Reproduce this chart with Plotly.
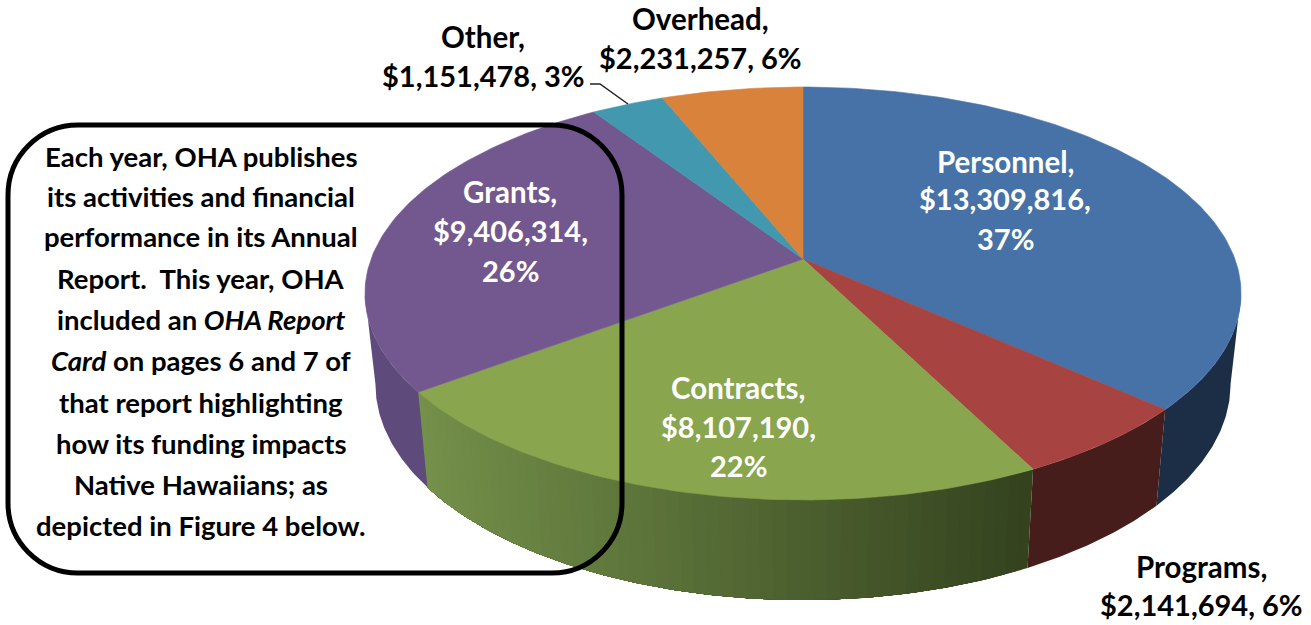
import math
import plotly.graph_objects as go

categories = ["Personnel", "Programs", "Contracts", "Grants", "Other", "Overhead"]
amounts = [13309816, 2141694, 8107190, 9406314, 1151478, 2231257]
percents = [37, 6, 22, 26, 3, 6]
top_colors = ["#4672A8", "#A74442", "#89A54E", "#72588E", "#4298AF", "#D9823C"]
wall_left = ["#1B2E46", "#471D1B", "#74904A", "#5F4A7C", "#2A6070", "#8A5020"]
wall_right = ["#1B2E46", "#471D1B", "#33421E", "#5F4A7C", "#2A6070", "#8A5020"]
box_lines = [
    "Each year, OHA publishes",
    "its activities and financial",
    "performance in its Annual",
    "Report.  This year, OHA",
    "included an <i>OHA Report</i>",
    "<i>Card</i> on pages 6 and 7 of",
    "that report highlighting",
    "how its funding impacts",
    "Native Hawaiians; as",
    "depicted in Figure 4 below.",
]

FONT = "Lato"
CX, CY = 803.0, 259.0
K, B = 0.167, 200.7
A = 431.9


def top(th):
    X, Y = math.sin(th), math.cos(th)
    w = 1 + K * Y
    return CX + A * X / w, CY - B * Y / w


def bottom(th):
    x, y = top(th)
    return CX + 0.976 * (x - CX), 1.045 * y + 77.6


def mix(c1, c2, t):
    a = [int(c1[i:i + 2], 16) for i in (1, 3, 5)]
    b = [int(c2[i:i + 2], 16) for i in (1, 3, 5)]
    t = min(1, max(0, t))
    return "rgb(%d,%d,%d)" % tuple(round(p + (q - p) * t) for p, q in zip(a, b))


total = sum(amounts)
edges = [0.0]
for v in amounts:
    edges.append(edges[-1] + v / total * 2 * math.pi)

fig = go.Figure()


def poly(xs, ys, color, lw=0.6):
    fig.add_trace(go.Scatter(x=xs, y=ys, mode="lines", fill="toself", fillcolor=color,
                             line=dict(color=color, width=lw), hoverinfo="skip", showlegend=False))


def wall_poly(t0, t1, color):
    m = max(2, int((t1 - t0) / math.radians(0.5)))
    ts = [t0 + (t1 - t0) * j / m for j in range(m + 1)]
    pts = [top(t) for t in ts] + [bottom(t) for t in reversed(ts)]
    pts.append(pts[0])
    poly([q[0] for q in pts], [q[1] for q in pts], color, lw=0)


# side walls run between the two silhouette tangents; later strips overpaint earlier ones
WALL_A = math.acos(-K)
WALL_B = 2 * math.pi - WALL_A
for i in range(len(amounts)):
    a0, a1 = max(edges[i], WALL_A), min(edges[i + 1], WALL_B)
    if a1 <= a0:
        continue
    if wall_left[i] == wall_right[i]:
        wall_poly(a0, a1, wall_left[i])
        continue
    n = max(2, int((a1 - a0) / math.radians(1.5)))
    x_l, x_r = top(a1)[0], top(a0)[0]
    for j in range(n):
        t0 = a0 + (a1 - a0) * j / n
        t1 = a0 + (a1 - a0) * (j + 1) / n
        frac = (top((t0 + t1) / 2)[0] - x_l) / (x_r - x_l)
        wall_poly(t0, a1, mix(wall_left[i], wall_right[i], frac))

# top face
for i in range(len(amounts)):
    n = max(4, int((edges[i + 1] - edges[i]) / math.radians(1)))
    arc = [top(edges[i] + (edges[i + 1] - edges[i]) * j / n) for j in range(n + 1)]
    pts = [(CX, CY)] + arc + [(CX, CY)]
    poly([q[0] for q in pts], [q[1] for q in pts], top_colors[i])

# leader line for "Other"
fig.add_trace(go.Scatter(x=[590, 600, 628], y=[84, 84, 104], mode="lines",
                         line=dict(color="#222222", width=1.5), hoverinfo="skip", showlegend=False))


def label(x, y, text, color="#000000", size=29.5):
    fig.add_annotation(x=x, y=y - 2, text="<b>%s</b>" % text, showarrow=False, xanchor="center", yanchor="middle",
                       font=dict(family=FONT, size=size, color=color))


def money(i):
    return "${:,}".format(amounts[i])


def pct(i):
    return "%d%%" % percents[i]


# inside labels
for i, cx, ys in [(0, 1005, (163, 200, 240)), (3, 510, (193, 232, 272)), (2, 738, (389, 428, 467))]:
    label(cx, ys[0], categories[i] + ",", "#FFFFFF")
    label(cx, ys[1], money(i) + ",", "#FFFFFF", 29)
    label(cx, ys[2], pct(i), "#FFFFFF", 29)

# outside labels
for i, cx, ys in [(1, 1201, (568, 606)), (4, 483, (38, 77)), (5, 700, (20, 59))]:
    label(cx, ys[0], categories[i] + ",")
    label(cx, ys[1], money(i) + ", " + pct(i), size=29)

box_y = [158, 198, 238, 280, 321, 362, 404, 445, 486, 527]
for line, y in zip(box_lines, box_y):
    label(201, y, line, size=27.5)

# rounded, unfilled text box
L, R, T, Bt, r = 8, 622, 125, 573, 70
c = 0.5523 * r
path = (f"M{L + r},{T} L{R - r},{T} C{R - r + c},{T} {R},{T + r - c} {R},{T + r} "
        f"L{R},{Bt - r} C{R},{Bt - r + c} {R - r + c},{Bt} {R - r},{Bt} "
        f"L{L + r},{Bt} C{L + r - c},{Bt} {L},{Bt - r + c} {L},{Bt - r} "
        f"L{L},{T + r} C{L},{T + r - c} {L + r - c},{T} {L + r},{T} Z")
fig.add_shape(type="path", path=path, xref="x", yref="y", line=dict(color="#000000", width=5),
              fillcolor="rgba(0,0,0,0)", layer="above")

fig.update_layout(
    width=1311, height=625, margin=dict(l=0, r=0, t=0, b=0), autosize=False,
    paper_bgcolor="#FFFFFF", plot_bgcolor="#FFFFFF", showlegend=False,
    xaxis=dict(range=[0, 1311], visible=False, fixedrange=True),
    yaxis=dict(range=[625, 0], visible=False, fixedrange=True),
)
fig.write_html("out.html", config={"displayModeBar": False},
               post_script="document.body.style.margin='0';document.documentElement.style.overflow='hidden';")
